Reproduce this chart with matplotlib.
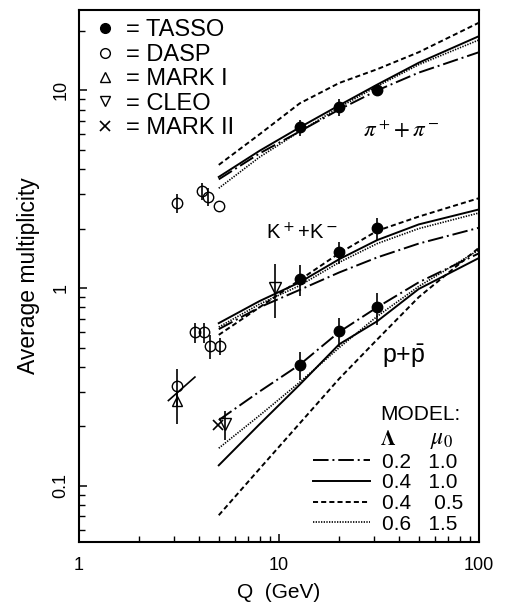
import matplotlib
matplotlib.use("Agg")
import matplotlib.pyplot as plt
from matplotlib.lines import Line2D
from matplotlib.ticker import NullFormatter

plt.rcParams['font.family'] = ['Liberation Sans', 'DejaVu Sans']

# model curves, Q in GeV
q_model = [5, 8, 12.7, 20, 31, 50, 100]

pi_02_10 = [3.55, 4.8, 6.2, 8.0, 10.0, 12.3, 15.6]
pi_04_10 = [3.65, 4.95, 6.5, 8.4, 10.7, 13.8, 18.8]
pi_04_05 = [4.2, 6.0, 8.6, 10.9, 12.8, 15.6, 22.0]
pi_06_15 = [3.2, 4.6, 6.2, 8.2, 10.5, 13.5, 18.0]

k_02_10 = [0.62, 0.80, 0.98, 1.20, 1.43, 1.68, 2.02]
k_04_10 = [0.665, 0.86, 1.07, 1.40, 1.75, 2.10, 2.50]
k_04_05 = [0.58, 0.80, 1.10, 1.50, 1.95, 2.30, 2.85]
k_06_15 = [0.635, 0.83, 1.03, 1.35, 1.68, 2.00, 2.40]

p_02_10 = [0.215, 0.30, 0.41, 0.60, 0.80, 1.07, 1.50]
p_04_10 = [0.127, 0.205, 0.325, 0.52, 0.68, 0.99, 1.42]
p_04_05 = [0.071, 0.122, 0.207, 0.348, 0.55, 0.90, 1.60]
p_06_15 = [0.155, 0.227, 0.334, 0.50, 0.72, 1.02, 1.56]

# measurements
tasso_q = [12.7, 20, 31]
tasso_pi = [6.5, 8.25, 10.05]
tasso_pi_err = [0.6, 0.8, 0.4]
tasso_k = [1.11, 1.52, 2.01]
tasso_k_err = [0.2, 0.2, 0.26]
tasso_p = [0.41, 0.606, 0.80]
tasso_p_err = [0.065, 0.1, 0.15]

dasp_pi_q = [3.1, 4.1, 4.4, 5.0]
dasp_pi = [2.7, 3.1, 2.9, 2.6]
dasp_pi_err = [0.3, 0.3, 0.3, 0.0]
dasp_k_q = [3.8, 4.2, 4.5, 5.05]
dasp_k = [0.6, 0.6, 0.51, 0.51]
dasp_k_err = [0.07, 0.07, 0.07, 0.05]
dasp_p_q = [3.1]
dasp_p = [0.32]
dasp_p_err = [0.07]

mark1_p_q = [3.1]
mark1_p = [0.27]
mark1_p_err = [[0.065], [0.03]]
mark1_fit_q = [2.8, 3.8]
mark1_fit = [0.27, 0.355]

cleo_q = [9.6, 5.4]
cleo_y = [1.0, 0.205]
cleo_err = [[0.29, 0.035], [0.33, 0.035]]

mark2_q = [4.95]
mark2_y = [0.203]

fig = plt.figure(figsize=(5.05, 6.07), dpi=100)
ax = fig.add_axes([0.1564, 0.1071, 0.792, 0.8764])
ax.set_xscale('log')
ax.set_yscale('log')

lw = 1.4
styles = {
    '02_10': dict(ls=(0, (8, 2, 1, 2)), lw=lw),
    '04_10': dict(ls='-', lw=lw),
    '04_05': dict(ls=(0, (2.6, 1.6)), lw=lw),
    '06_15': dict(ls=(0, (0.8, 0.8)), lw=1.2),
}

for curves in [(pi_02_10, pi_04_10, pi_04_05, pi_06_15),
               (k_02_10, k_04_10, k_04_05, k_06_15),
               (p_02_10, p_04_10, p_04_05, p_06_15)]:
    for key, ys in zip(['02_10', '04_10', '04_05', '06_15'], curves):
        ax.plot(q_model, ys, color='black', **styles[key])

ebkw = dict(color='black', ecolor='black', elinewidth=1.2, capsize=0, ls='none')

for ys, es in [(tasso_pi, tasso_pi_err), (tasso_k, tasso_k_err), (tasso_p, tasso_p_err)]:
    ax.errorbar(tasso_q, ys, yerr=es, fmt='o', ms=7.5, mfc='black', mec='black', **ebkw)

for qs, ys, es in [(dasp_pi_q, dasp_pi, dasp_pi_err), (dasp_k_q, dasp_k, dasp_k_err),
                   (dasp_p_q, dasp_p, dasp_p_err)]:
    ax.errorbar(qs, ys, yerr=es, fmt='o', ms=7.5, mfc='none', mec='black', mew=1.0, **ebkw)

ax.errorbar(mark1_p_q, mark1_p, yerr=mark1_p_err, fmt='^', ms=7.5, mfc='none',
            mec='black', mew=1.0, **ebkw)
ax.plot(mark1_fit_q, mark1_fit, color='black', lw=1.2)
ax.errorbar(cleo_q, cleo_y, yerr=cleo_err, fmt='v', ms=8, mfc='none',
            mec='black', mew=1.0, **ebkw)
ax.plot(mark2_q, mark2_y, 'x', color='black', ms=7.5, mew=1.2)

ax.set_xlim(1, 100)
ax.set_ylim(0.052, 25.5)

ax.set_xticks([1, 10, 100], ['1', '10', '100'])
ax.set_yticks([0.1, 1, 10], ['0.1', '1', '10'])
ax.xaxis.set_minor_formatter(NullFormatter())
ax.yaxis.set_minor_formatter(NullFormatter())
ax.tick_params(which='both', direction='in', top=False, right=False, labelsize=13)
ax.tick_params(which='major', length=6, width=1.1)
ax.tick_params(which='minor', length=4, width=1.0)
ax.tick_params(axis='x', pad=11)
ax.tick_params(axis='y', pad=7, labelrotation=90)
for lab in ax.get_yticklabels():
    lab.set_va('center')
for sp in ax.spines.values():
    sp.set_linewidth(1.5)

ax.set_xlabel('Q  (GeV)', fontsize=15)
ax.xaxis.set_label_coords(0.5, -0.077)
ax.set_ylabel('Average multiplicity', fontsize=16.5, va='center')
ax.yaxis.set_label_coords(-0.125, 0.5)

# species labels
ax.text(0.805, 0.774, r'$\pi^+\!+\pi^-$', transform=ax.transAxes, fontsize=16.5,
        ha='center', va='center', math_fontfamily='stix')
ax.text(0.5575, 0.581, r'K$^+$+K$^-$', transform=ax.transAxes, fontsize=14.5,
        ha='center', va='center')
ax.text(0.8125, 0.35, r'p+$\mathregular{\bar{p}}$', transform=ax.transAxes, fontsize=18,
        ha='center', va='center')

# experiment legend
exp_handles = [
    Line2D([], [], ls='none', marker='o', ms=7, mfc='black', mec='black'),
    Line2D([], [], ls='none', marker='o', ms=7, mfc='none', mec='black'),
    Line2D([], [], ls='none', marker='^', ms=7, mfc='none', mec='black'),
    Line2D([], [], ls='none', marker='v', ms=7, mfc='none', mec='black'),
    Line2D([], [], ls='none', marker='x', ms=7, mec='black', mew=1.2),
]
exp_labels = ['= TASSO', '= DASP', '= MARK I', '= CLEO', '= MARK II']
leg1 = ax.legend(exp_handles, exp_labels, loc='upper left', bbox_to_anchor=(0.0175, 1.0),
                 frameon=False, fontsize=17, handlelength=0.8, handletextpad=0.5,
                 labelspacing=0.1, borderaxespad=0.2, borderpad=0.2)
ax.add_artist(leg1)

# model legend
model_handles = [Line2D([], [], color='black', **styles[k]) for k in ['02_10', '04_10', '04_05', '06_15']]
model_labels = ['0.2   1.0', '0.4   1.0', '0.4    0.5', '0.6   1.5']
ax.legend(model_handles, model_labels, loc='lower right', bbox_to_anchor=(0.982, 0.0),
          frameon=False, fontsize=15, handlelength=2.7, handletextpad=0.6,
          labelspacing=0.08, borderaxespad=0.2, borderpad=0.2)
ax.text(0.7525, 0.239, 'MODEL:', transform=ax.transAxes, fontsize=15, ha='left', va='center')
ax.text(0.7525, 0.192, r'$\mathbf{\Lambda}$', transform=ax.transAxes, fontsize=15,
        ha='left', va='center', math_fontfamily='stix')
ax.text(0.8775, 0.192, r'$\mu_0$', transform=ax.transAxes, fontsize=17,
        ha='left', va='center', math_fontfamily='stix')

fig.savefig('out.png', dpi=100)
